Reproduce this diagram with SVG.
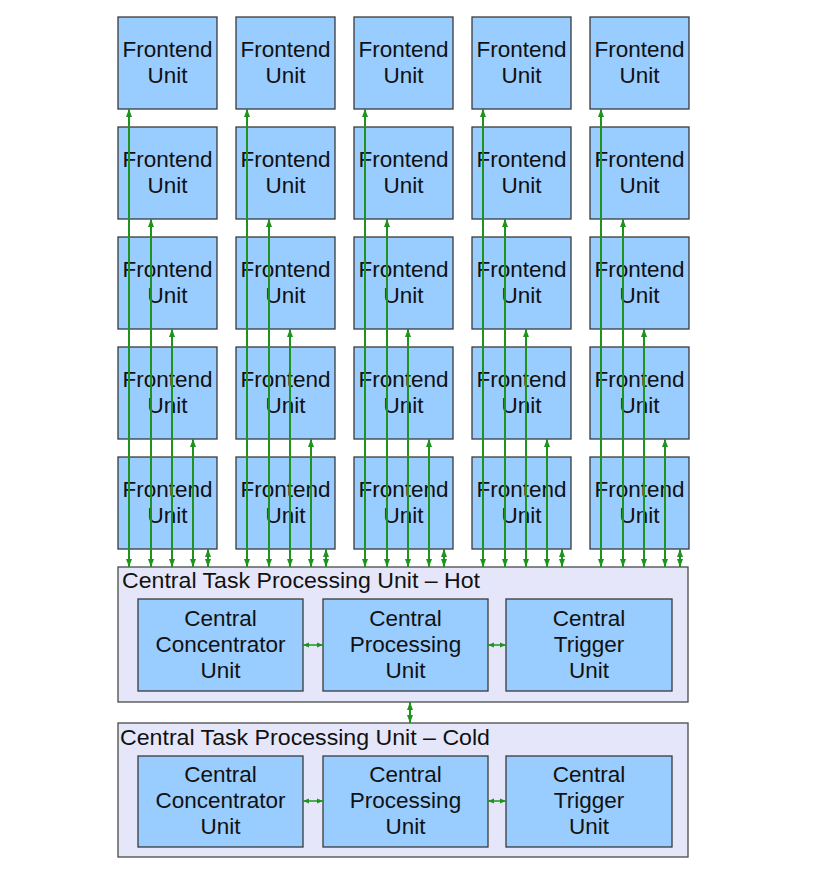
<svg xmlns="http://www.w3.org/2000/svg" width="830" height="884" viewBox="0 0 830 884">
<style>
.fe{fill:#99ccff;stroke:#3a3a3a;stroke-width:1.3}
.frame{fill:#e6e6fa;stroke:#4a4a4a;stroke-width:1.3}
.t{font-family:"Liberation Sans",Arial,sans-serif;font-size:22.5px;fill:#111;text-anchor:middle}
.lbl{font-family:"Liberation Sans",Arial,sans-serif;font-size:22px;fill:#111}
.c{stroke:#1e941e;stroke-width:2;fill:none;marker-start:url(#ah);marker-end:url(#ah)}
.cs{stroke:#1e941e;stroke-width:1.5;fill:none;marker-start:url(#ahs);marker-end:url(#ahs)}
</style>
<defs>
<marker id="ah" markerUnits="userSpaceOnUse" markerWidth="8" markerHeight="8" viewBox="0 0 8 8" refX="8" refY="4" orient="auto-start-reverse"><path d="M0,1 L8,4 L0,7 z" fill="#1e941e"/></marker>
<marker id="ahs" markerUnits="userSpaceOnUse" markerWidth="6" markerHeight="6" viewBox="0 0 6 6" refX="6" refY="3" orient="auto-start-reverse"><path d="M0,0.5 L6,3 L0,5.5 z" fill="#1e941e"/></marker>
</defs>
<rect width="830" height="884" fill="#ffffff"/>

<g id="ctpu-hot">
<rect class="frame" x="118" y="567" width="570" height="135"/>
<text class="lbl" x="122" y="588" textLength="358" lengthAdjust="spacingAndGlyphs">Central Task Processing Unit – Hot</text>
</g>
<g id="hot-concentrator"><rect class="fe" x="138" y="599" width="165" height="92"/><text class="t" x="220.5" y="626">Central</text><text class="t" x="220.5" y="652">Concentrator</text><text class="t" x="220.5" y="678">Unit</text></g>
<g id="hot-processing"><rect class="fe" x="323" y="599" width="165" height="92"/><text class="t" x="405.5" y="626">Central</text><text class="t" x="405.5" y="652">Processing</text><text class="t" x="405.5" y="678">Unit</text></g>
<g id="hot-trigger"><rect class="fe" x="506" y="599" width="166" height="92"/><text class="t" x="589" y="626">Central</text><text class="t" x="589" y="652">Trigger</text><text class="t" x="589" y="678">Unit</text></g>

<g id="ctpu-cold">
<rect class="frame" x="118" y="723" width="570" height="134"/>
<text class="lbl" x="120" y="745" textLength="370" lengthAdjust="spacingAndGlyphs">Central Task Processing Unit – Cold</text>
</g>
<g id="cold-concentrator"><rect class="fe" x="138" y="756" width="165" height="91"/><text class="t" x="220.5" y="782">Central</text><text class="t" x="220.5" y="808">Concentrator</text><text class="t" x="220.5" y="834">Unit</text></g>
<g id="cold-processing"><rect class="fe" x="323" y="756" width="165" height="91"/><text class="t" x="405.5" y="782">Central</text><text class="t" x="405.5" y="808">Processing</text><text class="t" x="405.5" y="834">Unit</text></g>
<g id="cold-trigger"><rect class="fe" x="506" y="756" width="166" height="91"/><text class="t" x="589" y="782">Central</text><text class="t" x="589" y="808">Trigger</text><text class="t" x="589" y="834">Unit</text></g>

<g id="fe-r1c1"><rect class="fe" x="118" y="17" width="99" height="92"/><text class="t" x="167.5" y="57">Frontend</text><text class="t" x="167.5" y="83">Unit</text></g>
<g id="fe-r1c2"><rect class="fe" x="236" y="17" width="99" height="92"/><text class="t" x="285.5" y="57">Frontend</text><text class="t" x="285.5" y="83">Unit</text></g>
<g id="fe-r1c3"><rect class="fe" x="354" y="17" width="99" height="92"/><text class="t" x="403.5" y="57">Frontend</text><text class="t" x="403.5" y="83">Unit</text></g>
<g id="fe-r1c4"><rect class="fe" x="472" y="17" width="99" height="92"/><text class="t" x="521.5" y="57">Frontend</text><text class="t" x="521.5" y="83">Unit</text></g>
<g id="fe-r1c5"><rect class="fe" x="590" y="17" width="99" height="92"/><text class="t" x="639.5" y="57">Frontend</text><text class="t" x="639.5" y="83">Unit</text></g>

<g id="fe-r2c1"><rect class="fe" x="118" y="127" width="99" height="92"/><text class="t" x="167.5" y="167">Frontend</text><text class="t" x="167.5" y="193">Unit</text></g>
<g id="fe-r2c2"><rect class="fe" x="236" y="127" width="99" height="92"/><text class="t" x="285.5" y="167">Frontend</text><text class="t" x="285.5" y="193">Unit</text></g>
<g id="fe-r2c3"><rect class="fe" x="354" y="127" width="99" height="92"/><text class="t" x="403.5" y="167">Frontend</text><text class="t" x="403.5" y="193">Unit</text></g>
<g id="fe-r2c4"><rect class="fe" x="472" y="127" width="99" height="92"/><text class="t" x="521.5" y="167">Frontend</text><text class="t" x="521.5" y="193">Unit</text></g>
<g id="fe-r2c5"><rect class="fe" x="590" y="127" width="99" height="92"/><text class="t" x="639.5" y="167">Frontend</text><text class="t" x="639.5" y="193">Unit</text></g>

<g id="fe-r3c1"><rect class="fe" x="118" y="237" width="99" height="92"/><text class="t" x="167.5" y="277">Frontend</text><text class="t" x="167.5" y="303">Unit</text></g>
<g id="fe-r3c2"><rect class="fe" x="236" y="237" width="99" height="92"/><text class="t" x="285.5" y="277">Frontend</text><text class="t" x="285.5" y="303">Unit</text></g>
<g id="fe-r3c3"><rect class="fe" x="354" y="237" width="99" height="92"/><text class="t" x="403.5" y="277">Frontend</text><text class="t" x="403.5" y="303">Unit</text></g>
<g id="fe-r3c4"><rect class="fe" x="472" y="237" width="99" height="92"/><text class="t" x="521.5" y="277">Frontend</text><text class="t" x="521.5" y="303">Unit</text></g>
<g id="fe-r3c5"><rect class="fe" x="590" y="237" width="99" height="92"/><text class="t" x="639.5" y="277">Frontend</text><text class="t" x="639.5" y="303">Unit</text></g>

<g id="fe-r4c1"><rect class="fe" x="118" y="347" width="99" height="92"/><text class="t" x="167.5" y="387">Frontend</text><text class="t" x="167.5" y="413">Unit</text></g>
<g id="fe-r4c2"><rect class="fe" x="236" y="347" width="99" height="92"/><text class="t" x="285.5" y="387">Frontend</text><text class="t" x="285.5" y="413">Unit</text></g>
<g id="fe-r4c3"><rect class="fe" x="354" y="347" width="99" height="92"/><text class="t" x="403.5" y="387">Frontend</text><text class="t" x="403.5" y="413">Unit</text></g>
<g id="fe-r4c4"><rect class="fe" x="472" y="347" width="99" height="92"/><text class="t" x="521.5" y="387">Frontend</text><text class="t" x="521.5" y="413">Unit</text></g>
<g id="fe-r4c5"><rect class="fe" x="590" y="347" width="99" height="92"/><text class="t" x="639.5" y="387">Frontend</text><text class="t" x="639.5" y="413">Unit</text></g>

<g id="fe-r5c1"><rect class="fe" x="118" y="457" width="99" height="92"/><text class="t" x="167.5" y="497">Frontend</text><text class="t" x="167.5" y="523">Unit</text></g>
<g id="fe-r5c2"><rect class="fe" x="236" y="457" width="99" height="92"/><text class="t" x="285.5" y="497">Frontend</text><text class="t" x="285.5" y="523">Unit</text></g>
<g id="fe-r5c3"><rect class="fe" x="354" y="457" width="99" height="92"/><text class="t" x="403.5" y="497">Frontend</text><text class="t" x="403.5" y="523">Unit</text></g>
<g id="fe-r5c4"><rect class="fe" x="472" y="457" width="99" height="92"/><text class="t" x="521.5" y="497">Frontend</text><text class="t" x="521.5" y="523">Unit</text></g>
<g id="fe-r5c5"><rect class="fe" x="590" y="457" width="99" height="92"/><text class="t" x="639.5" y="497">Frontend</text><text class="t" x="639.5" y="523">Unit</text></g>

<g id="connectors">
<line class="c" x1="129" y1="109" x2="129" y2="567"/>
<line class="c" x1="151" y1="219" x2="151" y2="567"/>
<line class="c" x1="172" y1="329" x2="172" y2="567"/>
<line class="c" x1="193" y1="439" x2="193" y2="567"/>
<line class="c" x1="208" y1="549" x2="208" y2="567"/>

<line class="c" x1="247" y1="109" x2="247" y2="567"/>
<line class="c" x1="269" y1="219" x2="269" y2="567"/>
<line class="c" x1="290" y1="329" x2="290" y2="567"/>
<line class="c" x1="311" y1="439" x2="311" y2="567"/>
<line class="c" x1="326" y1="549" x2="326" y2="567"/>

<line class="c" x1="365" y1="109" x2="365" y2="567"/>
<line class="c" x1="387" y1="219" x2="387" y2="567"/>
<line class="c" x1="408" y1="329" x2="408" y2="567"/>
<line class="c" x1="429" y1="439" x2="429" y2="567"/>
<line class="c" x1="444" y1="549" x2="444" y2="567"/>

<line class="c" x1="483" y1="109" x2="483" y2="567"/>
<line class="c" x1="505" y1="219" x2="505" y2="567"/>
<line class="c" x1="526" y1="329" x2="526" y2="567"/>
<line class="c" x1="547" y1="439" x2="547" y2="567"/>
<line class="c" x1="562" y1="549" x2="562" y2="567"/>

<line class="c" x1="601" y1="109" x2="601" y2="567"/>
<line class="c" x1="623" y1="219" x2="623" y2="567"/>
<line class="c" x1="644" y1="329" x2="644" y2="567"/>
<line class="c" x1="665" y1="439" x2="665" y2="567"/>
<line class="c" x1="680" y1="549" x2="680" y2="567"/>

<line class="cs" x1="303" y1="645" x2="323" y2="645"/>
<line class="cs" x1="488" y1="645" x2="506" y2="645"/>
<line class="cs" x1="303" y1="801" x2="323" y2="801"/>
<line class="cs" x1="488" y1="801" x2="506" y2="801"/>
<line class="c" x1="410" y1="702" x2="410" y2="723"/>
</g>
</svg>
